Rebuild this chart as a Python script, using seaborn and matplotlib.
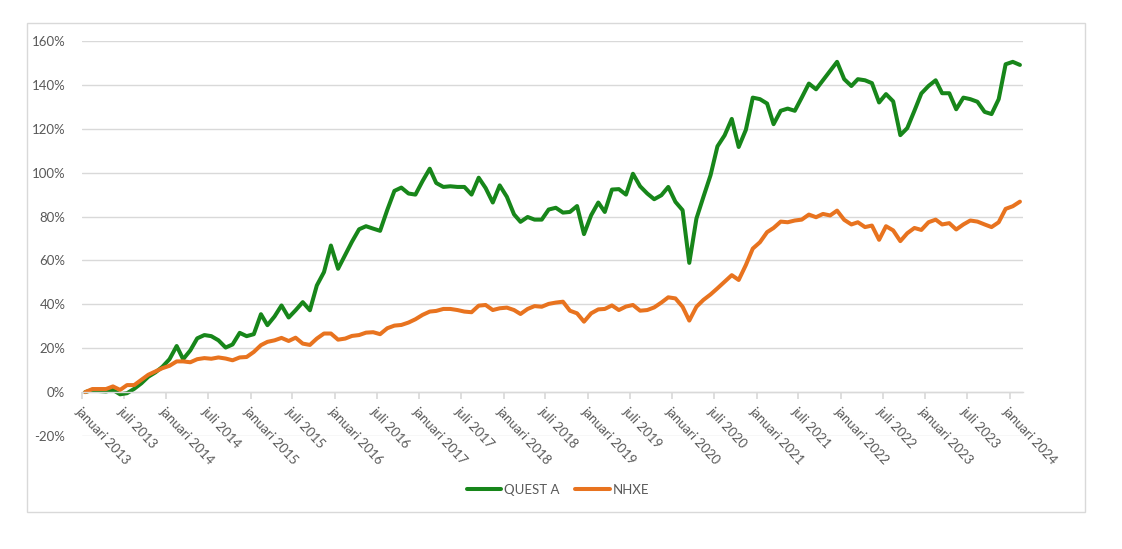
import matplotlib
matplotlib.use("Agg")
import matplotlib.pyplot as plt
import pandas as pd
import seaborn as sns
from matplotlib.patches import Rectangle

# monthly series, januari 2013 .. februari 2024 (cumulative return, %)
months = pd.date_range("2013-01-01", "2024-02-01", freq="MS")

quest_a = [
    0, 1, 0.5, 0.3, 1, -1, -0.5, 1.5, 4, 7, 9, 11.5,
    15, 21, 15, 19, 24.5, 26, 25.5, 23.6, 20.3, 21.7, 27, 25.5,
    26.4, 35.5, 30.5, 34.5, 39.5, 34, 37.3, 41, 37.3, 48.6, 54.7, 66.8,
    56.2, 62.5, 68.5, 74.2, 75.6, 74.5, 73.5, 83, 91.7, 93.2, 90.5, 90,
    96.2, 101.8, 95.3, 93.5, 93.8, 93.5, 93.5, 90, 97.7, 93, 86.4, 94.2,
    89, 81, 77.6, 79.8, 78.6, 78.6, 83.2, 84, 81.8, 82.1, 84.8, 72,
    80.6, 86.4, 82.1, 92.3, 92.5, 90, 99.5, 93.8, 90.5, 87.9, 89.7, 93.5,
    86.7, 82.9, 58.9, 79.1, 88.9, 98.8, 112, 117, 124.5, 111.7, 119.5, 134.2,
    133.5, 131.5, 122.1, 128.2, 129.2, 128.2, 134.2, 140.6, 138, 142.1, 146.4, 150.5,
    142.6, 139.5, 142.6, 142.1, 140.8, 132, 135.8, 132.5, 117.1, 120.3, 128.2, 136.1,
    139.5, 142.1, 136.2, 136.2, 128.9, 134.2, 133.5, 132.3, 127.7, 126.7, 133.5, 149.4,
    150.5, 149.1,
]

nhxe = [
    0, 1.4, 1.4, 1.4, 2.6, 1, 3.2, 3.2, 5.6, 7.9, 9.4, 10.9,
    12, 14, 14, 13.6, 15, 15.5, 15.2, 15.8, 15.3, 14.5, 15.8, 16,
    18.3, 21.4, 22.9, 23.6, 24.7, 23.3, 24.8, 22.1, 21.5, 24.4, 26.7, 26.7,
    23.9, 24.4, 25.6, 26, 27.1, 27.3, 26.4, 29.1, 30.3, 30.6, 31.7, 33.2,
    35.2, 36.7, 37, 37.9, 37.9, 37.4, 36.7, 36.4, 39.4, 39.7, 37.4, 38.2,
    38.5, 37.4, 35.6, 37.9, 39.2, 38.9, 40.2, 40.8, 41.2, 37.1, 35.9, 32.1,
    35.9, 37.7, 37.9, 39.5, 37.4, 39, 39.7, 37.1, 37.4, 38.6, 40.8, 43.2,
    42.7, 38.9, 32.6, 38.9, 42, 44.5, 47.3, 50.3, 53.3, 51.1, 57.9, 65.4,
    68.3, 72.9, 74.8, 77.7, 77.4, 78.2, 78.6, 80.9, 79.7, 81.2, 80.5, 82.7,
    78.5, 76.4, 77.4, 75.2, 75.9, 69.4, 75.6, 73.7, 68.8, 72.4, 74.8, 73.9,
    77.4, 78.6, 76.4, 77, 74.1, 76.4, 78.2, 77.7, 76.4, 75.2, 77.4, 83.5,
    84.7, 86.8,
]

series_names = ["QUEST A", "NHXE"]
tick_dates = pd.date_range("2013-01-01", "2024-01-01", freq="6MS")
tick_labels = [("januari " if d.month == 1 else "juli ") + str(d.year) for d in tick_dates]

df = pd.DataFrame({"datum": months, "QUEST A": quest_a, "NHXE": nhxe})
long = df.melt(id_vars="datum", var_name="serie", value_name="rendement")
# Excel places monthly points in the middle of the month interval
long["x"] = long["datum"] + pd.Timedelta(days=14)

sns.set_theme(style="white")
plt.rcParams["font.family"] = ["Lato", "DejaVu Sans"]

grey_text = "#595959"
grid_col = "#d9d9d9"

fig = plt.figure(figsize=(11.22, 5.49), dpi=100)
ax = fig.add_axes([82 / 1122, 113 / 549, 941.4 / 1122, 395 / 549])

sns.lineplot(
    data=long,
    x="x",
    y="rendement",
    hue="serie",
    hue_order=series_names,
    palette={"QUEST A": "#17861a", "NHXE": "#e8731f"},
    linewidth=2.9,
    ax=ax,
)

ax.set_ylim(-20, 160)
ax.set_yticks(range(-20, 161, 20))
ax.set_yticklabels([f"{v}%" for v in range(-20, 161, 20)])
ax.set_xlim(pd.Timestamp("2013-01-01"), pd.Timestamp("2024-03-01"))
ax.set_xticks(tick_dates)
ax.set_xticklabels(tick_labels)
ax.set_xlabel("")
ax.set_ylabel("")

ax.yaxis.grid(True, color=grid_col, linewidth=1)
ax.set_axisbelow(True)
for side in ["top", "right", "left"]:
    ax.spines[side].set_visible(False)
ax.spines["bottom"].set_position(("data", 0))
ax.spines["bottom"].set_color(grid_col)
ax.spines["bottom"].set_linewidth(1)

ax.tick_params(axis="y", length=0, pad=12, labelsize=9.5, labelcolor=grey_text)
ax.tick_params(axis="x", direction="out", length=5, color=grid_col,
               pad=4, labelsize=9.5, labelcolor=grey_text, bottom=True)
plt.setp(ax.get_xticklabels(), rotation=-47, ha="left", va="top",
         rotation_mode="anchor")

ax.legend(
    loc="center",
    bbox_to_anchor=(558 / 1122, 59 / 549),
    bbox_transform=fig.transFigure,
    ncol=2,
    frameon=False,
    fontsize=9.5,
    labelcolor=grey_text,
    handlelength=2.6,
    handletextpad=0.2,
    columnspacing=1.2,
)

fig.patches.append(
    Rectangle((27 / 1122, 37 / 549), 1058 / 1122, 489 / 549,
              transform=fig.transFigure, fill=False,
              edgecolor=grid_col, linewidth=1)
)

fig.savefig("out.png", dpi=100, facecolor="white")
